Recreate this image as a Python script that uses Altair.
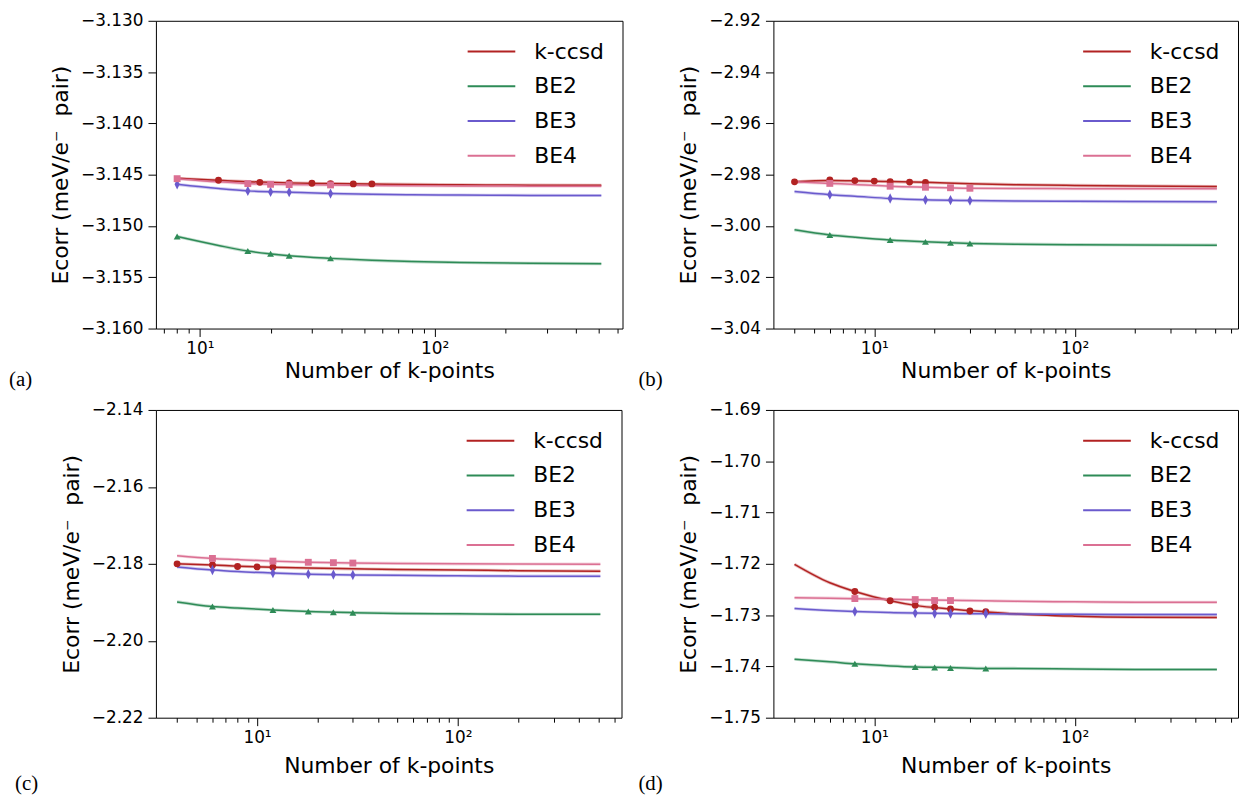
import altair as alt
import numpy as np
import pandas as pd

SERIES = ["k-ccsd", "BE2", "BE3", "BE4"]
COLORS = ["#b22222", "#2e8b57", "#6a5acd", "#db7093"]
SHAPES = ["circle", "triangle-up", "M0,-1.5L0.75,0L0,1.5L-0.75,0Z", "square"]

# ---------------- panel (a) ----------------
A_FIT_N = [8, 12, 16, 24, 36, 54, 80, 128, 256, 512]
A_FIT_KCCSD = [-3.14536, -3.14555, -3.14568, -3.14580, -3.14587, -3.14591, -3.14595, -3.14599, -3.14602, -3.14603]
A_FIT_BE2 = [-3.15103, -3.15190, -3.15245, -3.15290, -3.15316, -3.15335, -3.15347, -3.15356, -3.15364, -3.15368]
A_FIT_BE3 = [-3.14594, -3.14635, -3.14658, -3.14671, -3.14684, -3.14692, -3.14696, -3.14699, -3.14702, -3.14703]
A_FIT_BE4 = [-3.14539, -3.14570, -3.14587, -3.14597, -3.14600, -3.14605, -3.14608, -3.14610, -3.14612, -3.14613]
A_KCCSD_N = [12, 18, 24, 30, 36, 45, 54]
A_KCCSD_E = [-3.14555, -3.14575, -3.14580, -3.14584, -3.14587, -3.14590, -3.14590]
A_BE_N = [8, 16, 20, 24, 36]
A_BE2_E = [-3.15103, -3.15245, -3.15271, -3.15290, -3.15316]
A_BE3_E = [-3.14594, -3.14658, -3.14668, -3.14671, -3.14684]
A_BE4_E = [-3.14539, -3.14587, -3.14594, -3.14597, -3.14600]
A_YTICKS = [-3.160, -3.155, -3.150, -3.145, -3.140, -3.135, -3.130]

# ---------------- panel (b) ----------------
B_FIT_N = [4, 6, 8, 12, 18, 30, 50, 100, 200, 512]
B_FIT_KCCSD = [-2.9828, -2.9823, -2.9824, -2.9827, -2.9830, -2.9835, -2.9839, -2.9842, -2.9844, -2.9846]
B_FIT_BE2 = [-3.0015, -3.0035, -3.0044, -3.0055, -3.0062, -3.0068, -3.0071, -3.0073, -3.0074, -3.0075]
B_FIT_BE3 = [-2.9866, -2.9878, -2.9884, -2.9893, -2.9898, -2.9901, -2.9903, -2.9904, -2.9905, -2.9906]
B_FIT_BE4 = [-2.9828, -2.9834, -2.9838, -2.9845, -2.9849, -2.9853, -2.9854, -2.98545, -2.9855, -2.9855]
B_KCCSD_N = [4, 6, 8, 10, 12, 15, 18]
B_KCCSD_E = [-2.9828, -2.9821, -2.9823, -2.9825, -2.9827, -2.9829, -2.9830]
B_BE_N = [6, 12, 18, 24, 30]
B_BE2_E = [-3.0035, -3.0055, -3.0062, -3.0066, -3.0068]
B_BE3_E = [-2.9878, -2.9893, -2.9898, -2.9899, -2.9901]
B_BE4_E = [-2.9834, -2.9845, -2.9849, -2.9851, -2.9853]
B_YTICKS = [-3.04, -3.02, -3.00, -2.98, -2.96, -2.94, -2.92]

# ---------------- panel (c) ----------------
C_FIT_N = [4, 6, 8, 12, 18, 30, 50, 100, 200, 512]
C_FIT_KCCSD = [-2.1800, -2.1803, -2.1806, -2.1809, -2.1811, -2.1813, -2.1815, -2.1816, -2.1818, -2.1819]
C_FIT_BE2 = [-2.1899, -2.1911, -2.1915, -2.1920, -2.1924, -2.1927, -2.1929, -2.1930, -2.1931, -2.1931]
C_FIT_BE3 = [-2.1808, -2.1816, -2.1820, -2.1824, -2.1827, -2.1829, -2.1830, -2.1831, -2.1832, -2.1832]
C_FIT_BE4 = [-2.1779, -2.1786, -2.1789, -2.1793, -2.1796, -2.1798, -2.1799, -2.1800, -2.18005, -2.1801]
C_KCCSD_N = [4, 6, 8, 10, 12]
C_KCCSD_E = [-2.1800, -2.1803, -2.1807, -2.1808, -2.1809]
C_BE_N = [6, 12, 18, 24, 30]
C_BE2_E = [-2.1911, -2.1920, -2.1924, -2.1926, -2.1927]
C_BE3_E = [-2.1816, -2.1824, -2.1827, -2.1828, -2.1829]
C_BE4_E = [-2.1786, -2.1793, -2.1796, -2.1797, -2.1798]
C_YTICKS = [-2.22, -2.20, -2.18, -2.16, -2.14]

# ---------------- panel (d) ----------------
D_FIT_N = [4, 6, 8, 12, 16, 24, 36, 50, 100, 200, 512]
D_FIT_KCCSD = [-1.7201, -1.7237, -1.7254, -1.7272, -1.7281, -1.7288, -1.72935, -1.72975, -1.7302, -1.7304, -1.73045]
D_FIT_BE2 = [-1.7386, -1.7391, -1.7395, -1.7399, -1.7401, -1.7402, -1.7404, -1.7404, -1.7405, -1.7406, -1.7406]
D_FIT_BE3 = [-1.7287, -1.7291, -1.7293, -1.7295, -1.7296, -1.72968, -1.72974, -1.7298, -1.72985, -1.7299, -1.7299]
D_FIT_BE4 = [-1.7266, -1.7267, -1.7268, -1.7269, -1.7270, -1.7271, -1.7272, -1.7273, -1.7274, -1.7275, -1.7275]
D_KCCSD_N = [8, 12, 16, 20, 24, 30, 36]
D_KCCSD_E = [-1.7254, -1.7272, -1.7281, -1.72845, -1.7288, -1.7292, -1.72935]
D_BE_N = [8, 16, 20, 24, 36]
D_BE4_N = [8, 16, 20, 24]
D_BE2_E = [-1.7395, -1.7401, -1.7402, -1.7403, -1.7404]
D_BE3_E = [-1.7293, -1.7296, -1.72968, -1.72968, -1.72974]
D_BE4_E = [-1.72677, -1.72697, -1.72716, -1.72716]
D_YTICKS = [-1.75, -1.74, -1.73, -1.72, -1.71, -1.70, -1.69]

X_TITLE = "Number of k-points"
Y_TITLE = "Ecorr (meV/e\u207b\u00a0 pair)"
FONT = "DejaVu Sans"
COLOR_OF = dict(zip(SERIES, COLORS))
SHAPE_OF = dict(zip(SERIES, SHAPES))


def panel(fit_n, fits, points, yticks, yfmt, width, label, label_dx, label_offset, xtitle_pad):
    line_rows = []
    for s, vals in zip(SERIES, fits):
        for n, e in zip(fit_n, vals):
            line_rows.append({"N": n, "E": e, "series": s, "col": COLOR_OF[s]})
    pt_rows = []
    for s, (ns, es) in zip(SERIES, points):
        for n, e in zip(ns, es):
            pt_rows.append({"N": n, "E": e, "series": s, "col": COLOR_OF[s], "shp": SHAPE_OF[s]})
    lines = pd.DataFrame(line_rows)
    pts = pd.DataFrame(pt_rows)

    lo, hi = np.log10(min(fit_n)), np.log10(max(fit_n))
    span = hi - lo
    dom = [float(10 ** (lo - 0.05 * span)), float(10 ** (hi + 0.05 * span))]
    ticks = [m * 10 ** k for k in range(0, 3) for m in range(1, 10) if dom[0] <= m * 10 ** k <= dom[1]]

    xaxis = alt.Axis(
        values=ticks,
        labelExpr="datum.value == 10 ? '10\u00b9' : (datum.value == 100 ? '10\u00b2' : '')",
        tickSize={"condition": {"test": "datum.value == 10 || datum.value == 100", "value": 8}, "value": 4.5},
        labelOverlap=False, labelFlush=False, labelPadding=4,
        title=X_TITLE, titlePadding=xtitle_pad,
    )
    yaxis = alt.Axis(values=yticks, format=yfmt, tickSize=8, labelPadding=5,
                     title=Y_TITLE, titlePadding=8, labelOverlap=False, labelFlush=False)

    x = alt.X("N:Q", scale=alt.Scale(type="log", domain=dom, nice=False), axis=xaxis)
    y = alt.Y("E:Q", scale=alt.Scale(domain=[yticks[0], yticks[-1]], nice=False, zero=False), axis=yaxis)

    halo = alt.Chart(lines).mark_line(strokeWidth=3.2, opacity=0.3, interpolate="monotone").encode(
        x=x, y=y,
        stroke=alt.Stroke("col:N", scale=None),
        detail="series:N",
    )
    main = alt.Chart(lines).mark_line(strokeWidth=1.5, interpolate="monotone").encode(
        x=x, y=y,
        color=alt.Color("series:N", scale=alt.Scale(domain=SERIES, range=COLORS),
                        sort=SERIES,
                        legend=alt.Legend(title=None, orient="top-right")),
    )
    marks = alt.Chart(pts).mark_point(filled=True, size=48, opacity=1, strokeWidth=0).encode(
        x=x, y=y,
        fill=alt.Fill("col:N", scale=None),
        shape=alt.Shape("shp:N", scale=None),
        detail="series:N",
    )
    return alt.layer(halo, main, marks).properties(
        width=width, height=310,
        title=alt.TitleParams(text=label, orient="bottom", anchor="start", frame="group",
                              dx=label_dx, offset=label_offset, font="Liberation Serif",
                              fontSize=21, fontWeight="normal", color="black", baseline="top"),
    )


pa = panel(A_FIT_N, [A_FIT_KCCSD, A_FIT_BE2, A_FIT_BE3, A_FIT_BE4],
           [(A_KCCSD_N, A_KCCSD_E), (A_BE_N, A_BE2_E), (A_BE_N, A_BE3_E), (A_BE_N, A_BE4_E)],
           A_YTICKS, ".3f", 470, "(a)", -148, -12, 4)
pb = panel(B_FIT_N, [B_FIT_KCCSD, B_FIT_BE2, B_FIT_BE3, B_FIT_BE4],
           [(B_KCCSD_N, B_KCCSD_E), (B_BE_N, B_BE2_E), (B_BE_N, B_BE3_E), (B_BE_N, B_BE4_E)],
           B_YTICKS, ".2f", 468, "(b)", -136, -12, 4)
pc = panel(C_FIT_N, [C_FIT_KCCSD, C_FIT_BE2, C_FIT_BE3, C_FIT_BE4],
           [(C_KCCSD_N, C_KCCSD_E), (C_BE_N, C_BE2_E), (C_BE_N, C_BE3_E), (C_BE_N, C_BE4_E)],
           C_YTICKS, ".2f", 469, "\u00a0(c)", -142, -3, 10)
pd_ = panel(D_FIT_N, [D_FIT_KCCSD, D_FIT_BE2, D_FIT_BE3, D_FIT_BE4],
            [(D_KCCSD_N, D_KCCSD_E), (D_BE_N, D_BE2_E), (D_BE_N, D_BE3_E), (D_BE4_N, D_BE4_E)],
            D_YTICKS, ".2f", 468, "(d)", -136, -3, 10)

row1 = alt.hconcat(pa, pb, spacing=14).resolve_scale(x="independent", y="independent", color="independent")
row2 = alt.hconcat(pc, pd_, spacing=15).resolve_scale(x="independent", y="independent", color="independent")
chart = alt.vconcat(row1, row2, spacing=9).resolve_scale(x="independent", y="independent", color="independent")

chart = chart.properties(padding={"top": 0, "left": 0, "right": 0, "bottom": 0}).configure(font=FONT).configure_view(
    stroke="black", strokeWidth=1
).configure_axis(
    grid=False, domain=False, labelFont=FONT, titleFont=FONT, labelFontSize=17, titleFontSize=22,
    titleFontWeight="normal", labelColor="black", titleColor="black", tickColor="black", tickWidth=1,
).configure_legend(
    orient="top-right", offset=18, padding=0, labelFont=FONT, labelFontSize=22, labelColor="black",
    symbolType="M-2,0L2,0", symbolSize=576, symbolStrokeWidth=2, rowPadding=11, labelOffset=30,
    labelLimit=300,
)

chart.save("out.html", embed_options={"renderer": "svg", "actions": False})
